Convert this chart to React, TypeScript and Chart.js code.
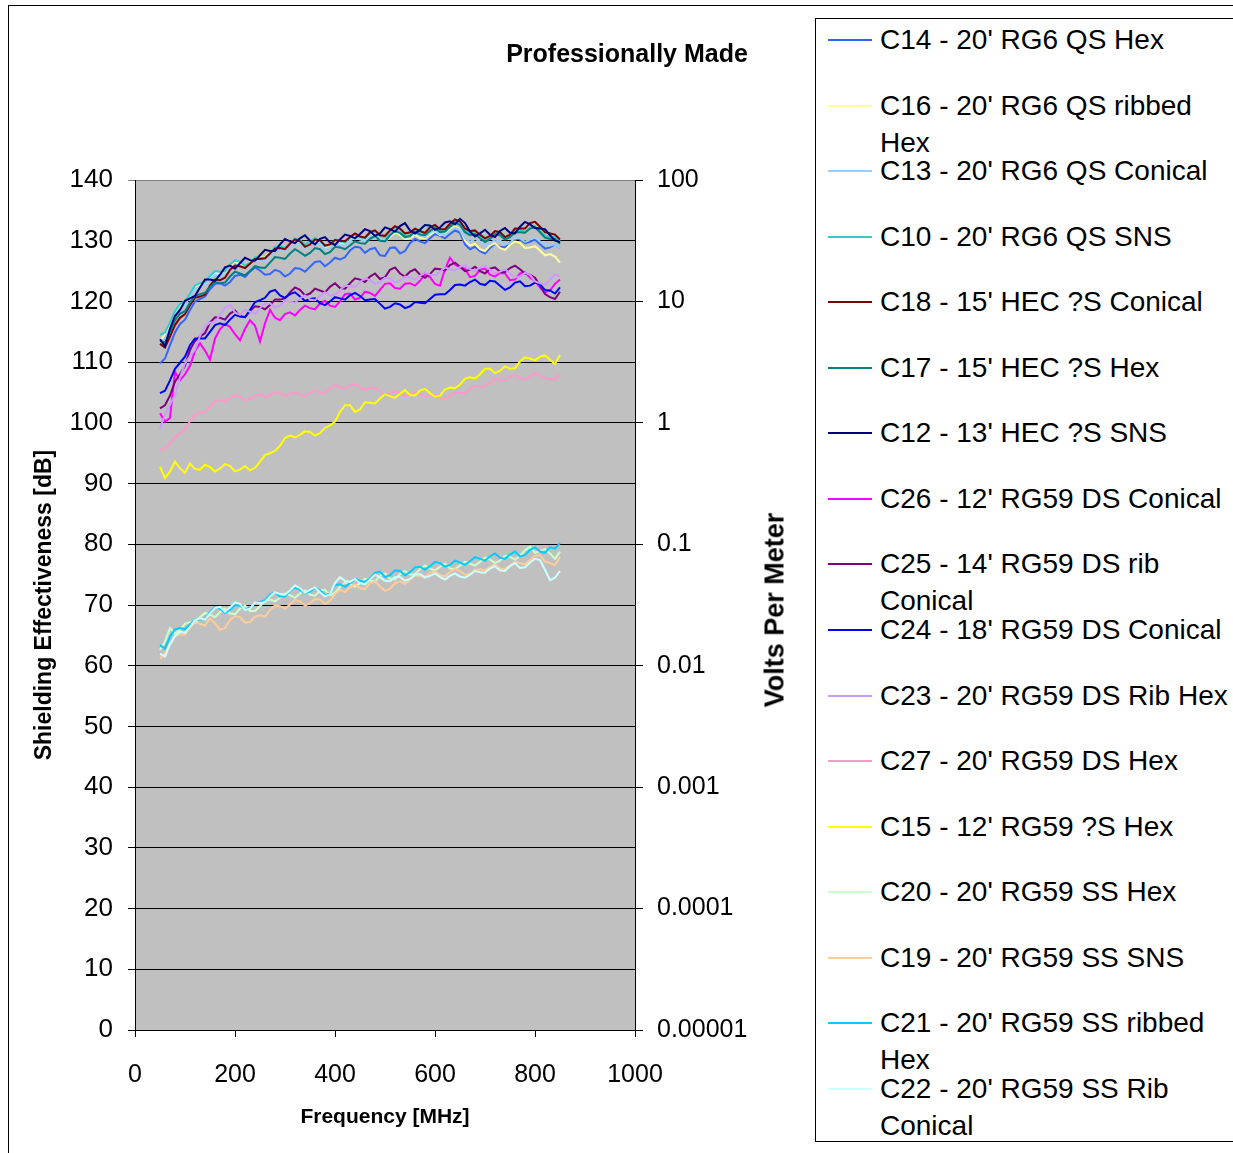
import React, { useEffect, useRef } from "react";
import { Chart, registerables } from "chart.js";

Chart.register(...registerables);

const FONT = "'Liberation Sans', Arial, Helvetica, sans-serif";

// Frequencies (MHz) of the sampled points
const freqs = [50, 60, 70, 80, 90, 100, 110, 120, 130, 140, 150, 160, 170, 180, 190, 200, 210, 220, 230, 240, 250, 260, 270, 280, 290, 300, 310, 320, 330, 340, 350, 360, 370, 380, 390, 400, 410, 420, 430, 440, 450, 460, 470, 480, 490, 500, 510, 520, 530, 540, 550, 560, 570, 580, 590, 600, 610, 620, 630, 640, 650, 660, 670, 680, 690, 700, 710, 720, 730, 740, 750, 760, 770, 780, 790, 800, 810, 820, 830, 840, 850];

// Shielding effectiveness [dB] per cable
const c14 = [109.8, 110.6, 112.8, 114.9, 116.3, 117.0, 118.6, 120.0, 120.4, 120.8, 122.0, 122.9, 123.0, 122.6, 123.2, 124.2, 124.4, 124.0, 124.9, 125.6, 125.1, 124.4, 124.5, 125.2, 124.9, 124.1, 124.6, 125.5, 125.4, 124.9, 125.7, 126.5, 126.6, 125.8, 126.4, 127.2, 126.9, 127.3, 128.4, 129.0, 128.9, 128.0, 128.6, 128.8, 127.6, 127.5, 128.8, 128.9, 127.9, 128.3, 129.6, 130.3, 129.9, 129.6, 130.4, 131.1, 130.8, 130.4, 131.1, 131.7, 131.3, 129.4, 128.6, 129.0, 128.3, 127.9, 128.8, 129.5, 129.0, 128.9, 129.7, 130.4, 130.2, 129.6, 129.8, 130.2, 129.4, 128.7, 128.9, 129.4, 128.8];
const c16 = [113.6, 114.5, 116.0, 117.8, 119.2, 119.8, 121.0, 122.2, 122.8, 123.1, 124.0, 124.6, 124.6, 125.0, 125.9, 126.5, 126.3, 125.9, 126.5, 127.3, 127.3, 127.2, 128.1, 128.9, 129.0, 128.8, 129.5, 130.1, 129.8, 129.1, 129.5, 130.1, 129.6, 128.9, 129.0, 129.7, 129.6, 129.3, 130.0, 130.7, 130.3, 130.1, 130.8, 131.1, 130.2, 129.9, 130.6, 131.3, 131.0, 130.3, 130.4, 131.0, 130.5, 130.4, 131.0, 131.6, 130.9, 131.0, 131.8, 132.3, 131.9, 130.0, 129.2, 129.5, 128.6, 128.3, 129.2, 129.6, 128.8, 128.5, 129.3, 129.9, 129.6, 128.8, 128.9, 129.1, 128.4, 127.6, 127.8, 127.4, 126.4];
const c13 = [113.2, 114.0, 115.6, 117.7, 118.9, 119.5, 120.8, 122.0, 122.5, 122.7, 123.6, 124.3, 124.3, 124.5, 125.5, 126.1, 125.9, 125.5, 126.0, 126.9, 126.8, 126.7, 127.5, 128.4, 128.4, 128.2, 129.0, 129.7, 129.4, 128.8, 129.2, 129.8, 129.4, 128.6, 128.9, 129.6, 129.4, 129.2, 129.9, 130.6, 130.2, 130.0, 130.7, 131.1, 130.3, 130.1, 130.9, 131.6, 131.2, 130.5, 130.6, 131.3, 130.8, 130.6, 131.3, 131.7, 131.0, 130.9, 131.6, 132.1, 131.8, 130.4, 129.8, 130.3, 129.9, 129.2, 129.5, 130.2, 130.0, 129.4, 129.6, 130.5, 130.4, 129.8, 130.2, 130.5, 129.9, 129.3, 129.2, 129.4, 128.8];
const c10 = [114.5, 114.9, 116.5, 118.4, 119.6, 120.0, 121.3, 122.6, 123.0, 123.2, 124.2, 125.0, 124.9, 125.0, 126.1, 126.8, 126.5, 125.9, 126.4, 127.3, 127.2, 127.1, 128.0, 129.0, 129.1, 128.8, 129.6, 130.4, 130.1, 129.4, 129.8, 130.5, 129.9, 129.1, 129.3, 130.2, 129.9, 129.7, 130.5, 131.1, 130.6, 130.4, 131.2, 131.6, 130.8, 130.6, 131.5, 132.2, 131.9, 131.1, 131.3, 131.9, 131.4, 131.2, 131.9, 132.4, 131.7, 131.6, 132.6, 133.3, 132.9, 131.7, 131.2, 131.6, 130.8, 130.1, 130.6, 131.4, 131.1, 130.4, 130.9, 131.9, 131.8, 131.4, 132.1, 132.4, 131.6, 130.8, 130.6, 130.6, 129.9];
const c18 = [113.0, 112.4, 114.2, 116.1, 117.3, 117.9, 119.4, 120.6, 120.8, 121.1, 122.6, 123.6, 123.5, 123.9, 125.2, 125.9, 125.8, 125.5, 126.2, 127.0, 127.0, 127.1, 127.9, 128.7, 128.8, 128.6, 129.5, 130.2, 129.9, 129.0, 129.4, 130.2, 130.1, 129.2, 129.4, 130.1, 130.0, 129.9, 130.6, 131.2, 130.7, 130.5, 131.4, 131.7, 130.9, 130.8, 131.7, 132.4, 132.0, 131.2, 131.4, 132.0, 131.6, 131.3, 132.2, 132.6, 131.9, 131.9, 132.8, 133.5, 133.2, 132.0, 131.6, 131.7, 131.0, 130.4, 130.8, 131.6, 131.4, 130.6, 131.0, 132.0, 132.0, 132.0, 132.9, 133.1, 132.3, 131.4, 131.2, 131.0, 130.2];
const c17 = [113.5, 113.2, 115.0, 116.9, 118.0, 118.4, 119.8, 120.9, 121.2, 121.4, 122.4, 123.2, 123.0, 123.1, 124.1, 124.9, 124.6, 124.3, 125.0, 125.8, 125.6, 125.5, 126.4, 127.3, 127.2, 127.0, 127.9, 128.6, 128.1, 127.5, 128.0, 128.8, 128.6, 127.8, 128.1, 129.0, 128.9, 128.6, 129.2, 129.9, 129.6, 129.5, 130.3, 130.8, 130.0, 129.9, 130.9, 131.6, 131.3, 130.6, 130.8, 131.5, 131.0, 130.9, 131.6, 132.1, 131.4, 131.5, 132.3, 133.0, 132.6, 131.4, 130.9, 131.1, 130.4, 129.8, 130.3, 131.1, 130.9, 130.2, 130.6, 131.4, 131.4, 131.3, 132.0, 132.2, 131.4, 130.5, 130.3, 130.3, 129.5];
const c12 = [113.8, 112.6, 115.5, 117.6, 118.6, 120.1, 120.5, 120.9, 122.3, 123.6, 123.6, 123.4, 124.4, 125.6, 125.9, 125.4, 126.3, 127.2, 126.8, 126.7, 127.6, 128.5, 128.3, 128.3, 129.4, 130.3, 129.9, 129.6, 130.4, 130.9, 130.0, 129.4, 130.3, 130.6, 129.7, 129.3, 130.2, 131.0, 130.8, 130.4, 131.1, 131.9, 131.6, 130.8, 131.2, 132.2, 131.9, 131.5, 132.4, 132.9, 131.7, 131.2, 131.8, 132.6, 132.5, 131.8, 132.2, 133.0, 133.2, 132.7, 133.6, 132.9, 131.5, 130.7, 131.2, 131.8, 131.0, 130.6, 131.6, 132.1, 131.3, 131.2, 132.3, 133.1, 132.7, 132.1, 132.0, 131.9, 130.9, 130.0, 129.8];
const c26 = [101.6, 100.2, 100.8, 108.4, 107.0, 108.0, 109.4, 111.8, 113.1, 111.9, 110.4, 113.9, 115.4, 116.3, 115.8, 114.6, 113.6, 115.5, 116.9, 116.0, 113.4, 116.4, 118.6, 117.3, 116.9, 117.9, 118.2, 117.7, 118.6, 119.3, 118.9, 118.7, 119.7, 120.1, 119.3, 119.1, 120.0, 121.2, 121.3, 120.3, 120.6, 121.6, 121.4, 120.9, 121.9, 122.9, 123.0, 122.2, 122.1, 122.9, 123.0, 122.6, 123.4, 124.4, 124.0, 122.9, 122.6, 125.3, 127.2, 126.1, 125.6, 125.4, 124.0, 124.2, 125.2, 125.4, 124.4, 124.1, 124.7, 124.6, 123.5, 123.6, 124.6, 124.8, 123.9, 123.4, 122.3, 121.5, 121.8, 122.9, 123.6];
const c25 = [102.4, 102.9, 104.5, 106.8, 108.0, 109.4, 112.0, 113.5, 114.2, 114.8, 116.5, 117.4, 117.3, 117.0, 118.0, 118.5, 117.6, 117.4, 118.4, 119.2, 119.1, 118.7, 119.4, 120.3, 120.3, 120.5, 121.5, 122.3, 121.9, 121.0, 121.3, 122.1, 121.8, 121.5, 122.4, 123.0, 122.2, 122.1, 123.0, 123.8, 123.6, 123.2, 124.1, 124.6, 123.7, 124.0, 125.2, 125.6, 124.6, 124.1, 124.9, 125.3, 124.4, 123.9, 124.5, 125.4, 125.3, 125.1, 126.0, 126.4, 125.7, 125.0, 125.2, 125.7, 125.0, 124.6, 125.4, 125.6, 124.9, 124.8, 125.5, 125.9, 125.3, 124.6, 124.4, 123.9, 122.6, 121.2, 120.7, 120.4, 121.6];
const c24 = [104.9, 105.3, 107.0, 108.9, 109.9, 110.9, 112.8, 113.9, 113.9, 113.9, 115.0, 116.1, 116.4, 116.1, 117.0, 117.8, 117.5, 117.4, 118.6, 119.9, 120.2, 120.6, 121.6, 121.9, 121.0, 120.6, 121.2, 121.5, 120.8, 120.1, 120.4, 120.5, 119.7, 119.4, 120.0, 120.7, 120.5, 120.3, 121.0, 121.4, 120.9, 120.2, 120.3, 120.4, 119.6, 118.8, 119.1, 119.7, 119.5, 118.9, 119.2, 119.9, 119.8, 119.7, 120.4, 121.1, 121.2, 121.2, 121.9, 122.7, 122.8, 122.6, 123.2, 123.6, 122.9, 122.7, 123.4, 123.3, 122.6, 121.9, 122.3, 123.1, 123.3, 122.5, 122.6, 123.1, 122.8, 121.9, 121.8, 121.3, 122.3];
const c23 = [99.1, 101.4, 103.0, 104.6, 107.5, 109.8, 111.0, 112.0, 114.3, 115.9, 116.5, 116.6, 117.8, 119.0, 119.4, 118.2, 117.8, 118.6, 118.3, 118.0, 118.9, 119.6, 119.7, 119.0, 119.3, 120.1, 120.0, 119.8, 120.5, 121.0, 120.3, 120.2, 120.9, 121.5, 121.0, 121.1, 121.9, 122.6, 122.5, 122.4, 123.2, 123.8, 123.5, 122.9, 123.2, 123.9, 123.8, 123.1, 123.4, 124.1, 124.0, 123.6, 124.2, 124.8, 124.4, 124.3, 124.9, 125.6, 125.3, 125.1, 125.7, 126.0, 125.3, 125.0, 125.6, 125.9, 125.2, 124.6, 124.9, 125.3, 124.6, 124.0, 124.1, 124.7, 124.4, 123.3, 123.0, 122.8, 123.6, 124.4, 124.2];
const c27 = [95.5, 95.8, 96.6, 97.7, 98.3, 98.9, 100.3, 101.3, 101.7, 101.8, 102.6, 103.6, 103.8, 103.5, 104.1, 104.6, 104.3, 103.7, 103.9, 104.6, 104.7, 104.2, 104.6, 105.1, 104.9, 104.4, 104.8, 105.1, 104.6, 104.4, 105.0, 105.4, 104.9, 105.0, 105.7, 106.2, 105.9, 105.6, 106.2, 106.4, 105.9, 105.4, 105.8, 105.8, 105.2, 104.6, 104.8, 105.2, 104.9, 104.4, 104.6, 105.1, 104.8, 104.3, 104.6, 104.8, 104.2, 103.9, 104.5, 105.0, 104.9, 104.9, 105.6, 106.1, 106.0, 106.0, 106.7, 107.3, 107.1, 106.9, 107.6, 107.9, 107.4, 107.1, 107.7, 108.2, 107.8, 107.4, 107.2, 107.1, 108.1];
const c15 = [92.8, 90.9, 92.0, 93.6, 92.5, 91.8, 93.3, 92.4, 92.3, 93.1, 92.7, 92.0, 92.5, 93.2, 92.9, 92.0, 92.3, 92.9, 92.2, 92.6, 93.6, 94.7, 95.0, 95.4, 96.2, 97.5, 97.9, 97.6, 98.0, 98.6, 98.5, 97.9, 98.3, 99.2, 99.6, 100.2, 101.8, 102.9, 102.9, 101.8, 102.2, 103.4, 103.3, 103.2, 104.0, 104.7, 104.4, 104.1, 104.8, 105.4, 104.6, 104.5, 105.3, 105.6, 104.9, 104.3, 104.5, 105.5, 105.8, 105.7, 106.3, 107.3, 107.5, 107.3, 108.0, 108.9, 108.9, 108.2, 108.6, 109.3, 108.9, 109.0, 110.1, 110.8, 110.6, 110.3, 110.9, 111.1, 110.4, 109.7, 111.2];
const c20 = [62.6, 64.0, 66.2, 65.3, 65.9, 66.9, 67.2, 67.0, 68.0, 68.7, 68.4, 68.0, 68.8, 69.4, 68.6, 68.5, 69.4, 69.9, 69.0, 69.0, 69.8, 70.7, 70.9, 70.6, 71.2, 71.9, 71.6, 71.2, 71.9, 72.4, 71.7, 71.5, 72.4, 72.5, 71.6, 72.0, 73.0, 73.7, 73.4, 73.0, 73.6, 74.3, 74.0, 73.9, 74.8, 75.2, 74.3, 74.2, 75.1, 75.6, 75.0, 75.1, 75.9, 76.5, 76.0, 75.7, 76.3, 76.8, 76.0, 75.9, 76.5, 77.1, 76.8, 76.5, 77.1, 77.8, 77.5, 76.9, 77.3, 78.1, 77.9, 77.5, 78.1, 79.0, 79.6, 78.6, 78.9, 79.2, 78.5, 77.6, 78.8];
const c19 = [61.2, 62.0, 63.6, 64.8, 65.2, 65.1, 66.3, 67.1, 66.9, 66.6, 67.8, 67.0, 65.9, 66.2, 67.5, 68.2, 68.0, 67.1, 67.2, 68.1, 68.3, 68.1, 69.2, 69.9, 69.8, 69.4, 70.1, 70.8, 70.6, 69.9, 70.3, 71.0, 70.9, 70.2, 70.7, 71.8, 72.5, 72.1, 72.9, 73.4, 72.8, 72.6, 73.6, 73.9, 73.1, 72.3, 72.7, 73.6, 73.9, 73.5, 74.2, 74.9, 74.8, 74.6, 75.3, 75.6, 74.9, 74.7, 75.4, 76.0, 75.6, 75.0, 75.1, 75.8, 75.9, 75.7, 76.3, 76.7, 76.0, 75.9, 76.5, 77.1, 76.9, 76.7, 77.4, 78.1, 78.2, 77.2, 76.9, 76.6, 77.9];
const c21 = [63.4, 62.8, 64.8, 66.0, 66.2, 66.0, 66.8, 67.6, 67.6, 67.8, 68.8, 69.6, 69.4, 68.7, 69.2, 70.0, 69.9, 69.3, 69.6, 70.3, 70.5, 70.8, 71.7, 72.1, 71.4, 71.4, 72.3, 72.9, 72.5, 71.9, 72.2, 72.8, 72.4, 71.6, 71.9, 73.3, 73.4, 73.0, 73.6, 74.3, 74.0, 73.8, 74.4, 75.3, 75.5, 74.6, 74.9, 75.7, 75.6, 74.9, 75.4, 76.2, 76.3, 75.8, 76.4, 77.1, 76.9, 76.3, 76.6, 77.3, 77.0, 76.6, 77.2, 77.9, 77.6, 77.3, 78.0, 78.5, 77.8, 77.6, 78.3, 78.8, 78.0, 78.2, 79.1, 79.5, 78.8, 78.6, 79.5, 79.3, 80.2];
const c22 = [62.0, 61.5, 63.5, 64.9, 65.6, 65.4, 66.4, 67.5, 67.8, 67.6, 68.6, 69.5, 69.7, 68.9, 69.6, 70.4, 70.2, 69.2, 69.4, 70.4, 70.3, 70.5, 71.4, 72.1, 71.8, 71.7, 72.4, 73.2, 72.8, 72.0, 72.5, 72.9, 72.1, 71.4, 71.8, 73.6, 74.6, 74.0, 73.8, 74.3, 73.6, 73.4, 74.2, 75.0, 74.6, 74.0, 73.9, 74.6, 74.6, 74.0, 74.3, 75.0, 75.1, 74.5, 74.8, 75.2, 74.6, 74.2, 74.8, 75.2, 74.7, 74.5, 75.0, 75.6, 75.4, 75.3, 76.0, 76.4, 75.7, 75.6, 76.4, 76.9, 76.1, 76.2, 77.0, 77.6, 77.4, 75.8, 74.1, 74.5, 75.6];

const seriesNames = [
  "C14 - 20' RG6 QS Hex",
  "C16 - 20' RG6 QS ribbed Hex",
  "C13 - 20' RG6 QS Conical",
  "C10 - 20' RG6 QS SNS",
  "C18 - 15' HEC ?S Conical",
  "C17 - 15' HEC ?S Hex",
  "C12 - 13' HEC ?S SNS",
  "C26 - 12' RG59 DS Conical",
  "C25 - 14' RG59 DS rib Conical",
  "C24 - 18' RG59 DS Conical",
  "C23 - 20' RG59 DS Rib Hex",
  "C27 - 20' RG59 DS Hex",
  "C15 - 12' RG59 ?S Hex",
  "C20 - 20' RG59 SS Hex",
  "C19 - 20' RG59 SS SNS",
  "C21 - 20' RG59 SS ribbed Hex",
  "C22 - 20' RG59 SS Rib Conical",
];
const seriesColors = [
  "#3366FF", "#FFFF99", "#99CCFF", "#33CCCC", "#800000", "#008080", "#000080",
  "#FF00FF", "#800080", "#0000FF", "#CC99FF", "#FF99CC", "#FFFF00",
  "#CCFFCC", "#FFCC99", "#00CCFF", "#CCFFFF",
];
const seriesValues = [c14, c16, c13, c10, c18, c17, c12, c26, c25, c24, c23, c27, c15, c20, c19, c21, c22];

// Axis ticks
const xTickStep = 200;
const xMin = 0;
const xMax = 1000;
const leftTickStep = 10;
const leftMin = 0;
const leftMax = 140;
const rightTickValues = [0.00001, 0.0001, 0.001, 0.01, 0.1, 1, 10, 100];
const rightTickLabels = ["0.00001", "0.0001", "0.001", "0.01", "0.1", "1", "10", "100"];

const titleText = "Professionally Made";
const xTitle = "Frequency [MHz]";
const leftTitle = "Shielding Effectiveness [dB]";
const rightTitle = "Volts Per Meter";

const CANVAS_W = 815;
const CANVAS_H = 1153;
const AREA = { left: 135, top: 180, right: 635, bottom: 1030 };

const plotBackground = {
  id: "plotBackground",
  beforeDraw(chart: any) {
    const { ctx, chartArea } = chart;
    ctx.save();
    ctx.fillStyle = "#C0C0C0";
    ctx.fillRect(chartArea.left, chartArea.top, chartArea.right - chartArea.left, chartArea.bottom - chartArea.top);
    ctx.restore();
  },
};

export default function App() {
  const canvasRef = useRef<HTMLCanvasElement | null>(null);

  useEffect(() => {
    if (!canvasRef.current) return;
    const n = seriesValues.length;
    const chart = new Chart(canvasRef.current, {
      type: "line",
      data: {
        datasets: seriesValues.map((vals, i) => ({
          label: seriesNames[i],
          data: freqs.map((f, j) => ({ x: f, y: vals[j] })),
          borderColor: seriesColors[i],
          backgroundColor: seriesColors[i],
          borderWidth: 2,
          pointRadius: 0,
          tension: 0,
          fill: false,
          order: n - i,
          yAxisID: "y",
        })),
      },
      options: {
        responsive: false,
        animation: false,
        events: [],
        layout: { padding: { left: 0, top: AREA.top, right: 0, bottom: 0 } },
        plugins: {
          legend: { display: false },
          title: { display: false },
          tooltip: { enabled: false },
        },
        scales: {
          x: {
            type: "linear",
            min: xMin,
            max: xMax,
            ticks: {
              stepSize: xTickStep,
              color: "#000",
              font: { family: FONT, size: 25 },
              padding: 23,
              maxRotation: 0,
              autoSkip: false,
              callback: (v: any) => String(v),
            },
            grid: { drawOnChartArea: false, drawTicks: true, tickLength: 7, color: "#000" },
            border: { display: true, color: "#000", width: 1 },
            title: {
              display: true,
              text: xTitle,
              color: "#000",
              font: { family: FONT, size: 21, weight: "bold" },
              padding: { top: 0, bottom: 23 },
            },
            afterFit(s: any) {
              s.height = CANVAS_H - AREA.bottom;
            },
          },
          y: {
            type: "linear",
            position: "left",
            min: leftMin,
            max: leftMax,
            ticks: {
              stepSize: leftTickStep,
              color: "#000",
              font: { family: FONT, size: 26 },
              padding: 15,
              autoSkip: false,
            },
            grid: {
              drawOnChartArea: true,
              drawTicks: true,
              tickLength: 7,
              color: (ctx: any) => (ctx.tick && ctx.tick.value === leftMax ? "#808080" : "#000"),
              lineWidth: 1,
            },
            border: { display: true, color: "#000", width: 1 },
            title: {
              display: true,
              text: leftTitle,
              color: "#000",
              font: { family: FONT, size: 23, weight: "bold" },
              padding: { top: 31, bottom: 0 },
            },
            afterFit(s: any) {
              s.width = AREA.left;
            },
          },
          y2: {
            type: "logarithmic",
            position: "right",
            min: rightTickValues[0],
            max: rightTickValues[rightTickValues.length - 1],
            afterBuildTicks(s: any) {
              s.ticks = rightTickValues.map((v) => ({ value: v }));
            },
            ticks: {
              color: "#000",
              font: { family: FONT, size: 25 },
              padding: 14,
              autoSkip: false,
              callback: (_v: any, idx: number) => rightTickLabels[idx],
            },
            grid: { drawOnChartArea: false, drawTicks: true, tickLength: 8, color: "#000" },
            border: { display: true, color: "#000", width: 1 },
            afterFit(s: any) {
              s.width = CANVAS_W - AREA.right;
            },
          },
        },
      },
      plugins: [plotBackground],
    } as any);
    return () => chart.destroy();
  }, []);

  const legendTop = 40;
  const legendStep = 65.56;

  return (
    <div
      style={{
        position: "fixed",
        left: 0,
        top: 0,
        width: 1233,
        height: 1153,
        overflow: "hidden",
        background: "#fff",
        fontFamily: FONT,
        color: "#000",
      }}
    >
      <div
        style={{
          position: "absolute",
          left: 8,
          top: 5,
          width: 1400,
          height: 1400,
          borderLeft: "1px solid #000",
          borderTop: "1px solid #000",
        }}
      />
      <canvas
        ref={canvasRef}
        width={CANVAS_W}
        height={CANVAS_H}
        style={{ position: "absolute", left: 0, top: 0, width: CANVAS_W, height: CANVAS_H }}
      />
      <div
        style={{
          position: "absolute",
          left: 627,
          top: 53,
          transform: "translate(-50%, -50%)",
          fontSize: 25,
          fontWeight: "bold",
          whiteSpace: "nowrap",
        }}
      >
        {titleText}
      </div>
      <div
        style={{
          position: "absolute",
          left: 775,
          top: 610,
          transform: "translate(-50%, -50%) rotate(-90deg)",
          fontSize: 27,
          fontWeight: "bold",
          whiteSpace: "nowrap",
        }}
      >
        {rightTitle}
      </div>
      <div
        style={{
          position: "absolute",
          left: 815,
          top: 18,
          width: 600,
          height: 1124,
          border: "1px solid #000",
          boxSizing: "border-box",
          background: "#fff",
        }}
      />
      {seriesNames.map((name, i) => {
        const cy = legendTop + i * legendStep;
        return (
          <React.Fragment key={name}>
            <div
              style={{
                position: "absolute",
                left: 828,
                top: cy - 1,
                width: 44,
                height: 2,
                background: seriesColors[i],
              }}
            />
            <div
              style={{
                position: "absolute",
                left: 880,
                top: cy - 19,
                width: 358,
                fontSize: 28,
                lineHeight: "37px",
                whiteSpace: "normal",
              }}
            >
              {name}
            </div>
          </React.Fragment>
        );
      })}
    </div>
  );
}
